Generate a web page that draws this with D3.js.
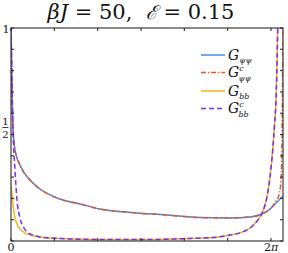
<!DOCTYPE html>
<html>
<head>
<meta charset="utf-8">
<script src="https://cdn.jsdelivr.net/npm/d3@7"></script>
<style>
  body { margin: 0; background: #fff; }
  svg { display: block; }
  text { font-family: "DejaVu Serif", "Liberation Serif", serif; }
</style>
</head>
<body>
<div id="chart"></div>
<script>
// values (x in radians, y = correlator value)
const X_MAX = 2 * Math.PI * 272 / 260;

const psiX  = [0, 0.024, 0.048, 0.097, 0.217, 0.459, 0.701, 1.184, 1.667, 2.151, 2.876, 3.770, 4.567, 5.292, 5.776, 6.066, 6.259, 6.404, 6.500, 6.573];
const psiY  = [1, 0.709, 0.531, 0.427, 0.357, 0.286, 0.244, 0.197, 0.174, 0.150, 0.134, 0.122, 0.110, 0.108, 0.113, 0.127, 0.150, 0.178, 0.197, 0.211];

const psiCX = [0, 0.024, 0.048, 0.097, 0.217, 0.459, 0.701, 1.184, 1.667, 2.151, 2.876, 3.770, 4.567, 5.292, 5.776, 6.066, 6.259, 6.404, 6.476, 6.525, 6.549, 6.573];
const psiCY = [1, 0.709, 0.531, 0.427, 0.357, 0.286, 0.244, 0.197, 0.174, 0.150, 0.134, 0.122, 0.110, 0.108, 0.113, 0.127, 0.150, 0.188, 0.216, 0.286, 0.474, 1];

const bbX   = [0, 0.024, 0.048, 0.097, 0.169, 0.266, 0.459, 0.942, 2.151, 3.359, 4.326, 4.881, 5.292, 5.534, 5.776, 5.969, 6.066, 6.186, 6.259, 6.324, 6.368, 6.404, 6.428, 6.445];
const bbY   = [0.263, 0.216, 0.169, 0.108, 0.070, 0.047, 0.028, 0.014, 0.007, 0.007, 0.012, 0.016, 0.028, 0.038, 0.061, 0.099, 0.131, 0.207, 0.300, 0.427, 0.545, 0.662, 0.826, 1];

const bbCX  = [0, 0.024, 0.048, 0.097, 0.145, 0.217, 0.314, 0.459, 0.942, 2.151, 3.359, 4.326, 4.881, 5.292, 5.534, 5.776, 5.969, 6.066, 6.186, 6.259, 6.324, 6.368, 6.404, 6.428, 6.445];
const bbCY  = [1, 0.756, 0.521, 0.333, 0.192, 0.108, 0.061, 0.033, 0.014, 0.007, 0.007, 0.012, 0.016, 0.028, 0.038, 0.061, 0.099, 0.131, 0.207, 0.300, 0.427, 0.545, 0.662, 0.826, 1];

const xTicks = [0, 1, 2, 3, 4, 5, 6].map(k => k * Math.PI / 3);
const yTicks = [0, 0.1, 0.2, 0.3, 0.4, 0.5, 0.6, 0.7, 0.8, 0.9, 1];

const series = [
    { name: "psi",  xs: psiX,  ys: psiY,  color: "#3d8ff5", dash: null,        sub: "ψψ", sup: "" },
    { name: "psiC", xs: psiCX, ys: psiCY, color: "#e8531f", dash: "5,2,1.2,2", sub: "ψψ", sup: "c" },
    { name: "bb",   xs: bbX,   ys: bbY,   color: "#f0b323", dash: null,        sub: "bb", sup: "" },
    { name: "bbC",  xs: bbCX,  ys: bbCY,  color: "#7a2cf5", dash: "5,3",       sub: "bb", sup: "c" }
];

const width = 288, height = 253;
const svg = d3.select("#chart").append("svg")
    .attr("width", width)
    .attr("height", height);

const x = d3.scaleLinear().domain([0, X_MAX]).range([11, 283]);
const y = d3.scaleLinear().domain([0, 1]).range([241, 28]);

// title
const title = svg.append("text")
    .attr("x", 141).attr("y", 19)
    .attr("text-anchor", "middle")
    .attr("xml:space", "preserve")
    .style("font-size", "21px")
    .attr("fill", "#111");
title.append("tspan").style("font-style", "italic").text("βJ");
title.append("tspan").text(" = 50,  ");
title.append("tspan").style("font-style", "italic").style("font-size", "19px").text("ℰ");
title.append("tspan").text(" = 0.15");

// curves
svg.append("clipPath").attr("id", "plot-clip")
    .append("rect")
    .attr("x", 11).attr("y", 27)
    .attr("width", 272).attr("height", 214);

const line = d3.line()
    .x(d => x(d[0]))
    .y(d => y(d[1]))
    .curve(d3.curveMonotoneX);

const curves = svg.append("g").attr("clip-path", "url(#plot-clip)");
series.forEach(s => {
    curves.append("path")
        .datum(s.xs.map((v, i) => [v, s.ys[i]]))
        .attr("fill", "none")
        .attr("stroke", s.color)
        .attr("stroke-width", 1.5)
        .attr("stroke-dasharray", s.dash)
        .attr("d", line);
});

// frame and inward ticks
const axisColor = "#2b2b2b";
const frame = svg.append("g")
    .attr("stroke", axisColor)
    .attr("stroke-width", 1.1);

frame.append("rect")
    .attr("x", x(0)).attr("y", y(1))
    .attr("width", x(X_MAX) - x(0))
    .attr("height", y(0) - y(1))
    .attr("fill", "none");

xTicks.forEach(t => {
    frame.append("line").attr("x1", x(t)).attr("x2", x(t)).attr("y1", y(0)).attr("y2", y(0) - 3);
    frame.append("line").attr("x1", x(t)).attr("x2", x(t)).attr("y1", y(1)).attr("y2", y(1) + 3);
});
yTicks.forEach(t => {
    frame.append("line").attr("x1", x(0)).attr("x2", x(0) + 3).attr("y1", y(t)).attr("y2", y(t));
    frame.append("line").attr("x1", x(X_MAX)).attr("x2", x(X_MAX) - 3).attr("y1", y(t)).attr("y2", y(t));
});

// tick labels
const lab = svg.append("g").attr("fill", "#111").style("font-size", "11px");
lab.append("text").attr("x", x(0)).attr("y", 251).attr("text-anchor", "middle").text("0");
const twoPi = lab.append("text").attr("x", x(2 * Math.PI)).attr("y", 251).attr("text-anchor", "middle");
twoPi.append("tspan").text("2");
twoPi.append("tspan").style("font-style", "italic").text("π");

lab.append("text").attr("x", 6).attr("y", y(1) + 5).attr("text-anchor", "middle").text("1");
const half = y(0.5) - 7;
lab.append("text").attr("x", 5.5).attr("y", half - 2.5).style("font-size", "10px").attr("text-anchor", "middle").text("1");
lab.append("line").attr("x1", 2.5).attr("x2", 8.5).attr("y1", half).attr("y2", half)
    .attr("stroke", "#111").attr("stroke-width", 0.8);
lab.append("text").attr("x", 5.5).attr("y", half + 10.5).style("font-size", "10px").attr("text-anchor", "middle").text("2");

// legend: one text per entry, sub/superscripts as tspans
const legendY = [55, 72.5, 91, 108.5];
const legend = svg.append("g").attr("fill", "#111").style("font-style", "italic");
series.forEach((s, i) => {
    const ly = legendY[i];
    legend.append("line")
        .attr("x1", 201).attr("x2", 225)
        .attr("y1", ly).attr("y2", ly)
        .attr("stroke", s.color)
        .attr("stroke-width", 1.5)
        .attr("stroke-dasharray", s.dash);
    const t = legend.append("text")
        .attr("x", 228).attr("y", ly + 4.5)
        .style("font-size", "14px");
    t.append("tspan").text("G");
    if (s.sup) {
        t.append("tspan").attr("dy", -6.5).style("font-size", "8px").text(s.sup);
        t.append("tspan").attr("x", 238.5).attr("dy", 10).style("font-size", "8px").text(s.sub);
    } else {
        t.append("tspan").attr("dy", 3.5).style("font-size", "8px").text(s.sub);
    }
});
</script>
</body>
</html>
